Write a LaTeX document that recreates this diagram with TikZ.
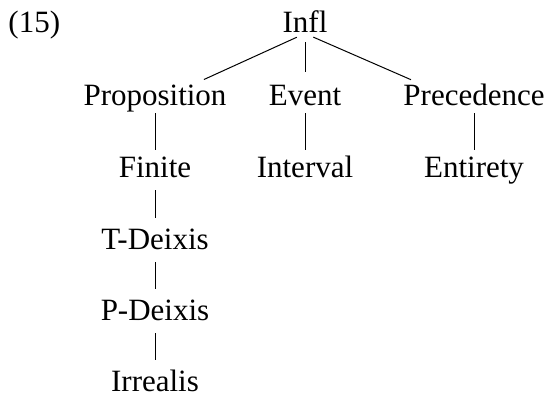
\documentclass[tikz,border=0pt]{standalone}
\usepackage{fontspec}
\setmainfont{Liberation Serif}
\begin{document}
\begin{tikzpicture}[x=1pt, y=-1pt, line width=1pt,
        every node/.style={font=\fontsize{31}{36}\selectfont, anchor=base, inner sep=0pt, text height=21pt, text depth=0pt},
        branch/.style={shorten <=12pt, shorten >=10pt},
        top/.style={shorten <=9pt, shorten >=12pt},
        long/.style={shorten <=7pt, shorten >=6pt}]
                \useasboundingbox (0, 0) rectangle (550, 398);
                \node[anchor=base west] (ex) at (8, 33) {(15)};
                \node (0) at (305, 33) {Infl};
                \node (1) at (155, 106) {Proposition};
                \node (2) at (305, 106) {Event};
                \node (3) at (474, 106) {Precedence};
                \node (4) at (155, 178) {Finite};
                \node (5) at (305, 178) {Interval};
                \node (6) at (474, 178) {Entirety};
                \node (7) at (155, 250) {T-Deixis};
                \node (8) at (155, 321) {P-Deixis};
                \node (9) at (155, 392) {Irrealis};
                \path[top] (0.south) edge ([xshift=38pt]1.north)
                           (0.south) edge (2.north)
                           (0.south) edge ([xshift=-52pt]3.north);
                \path[long] (1.south) edge (4.north)
                            (2.south) edge (5.north)
                            (3.south) edge (6.north);
                \path[branch] (4.south) edge (7.north)
                              (7.south) edge (8.north)
                              (8.south) edge (9.north);
            \end{tikzpicture}
\end{document}
